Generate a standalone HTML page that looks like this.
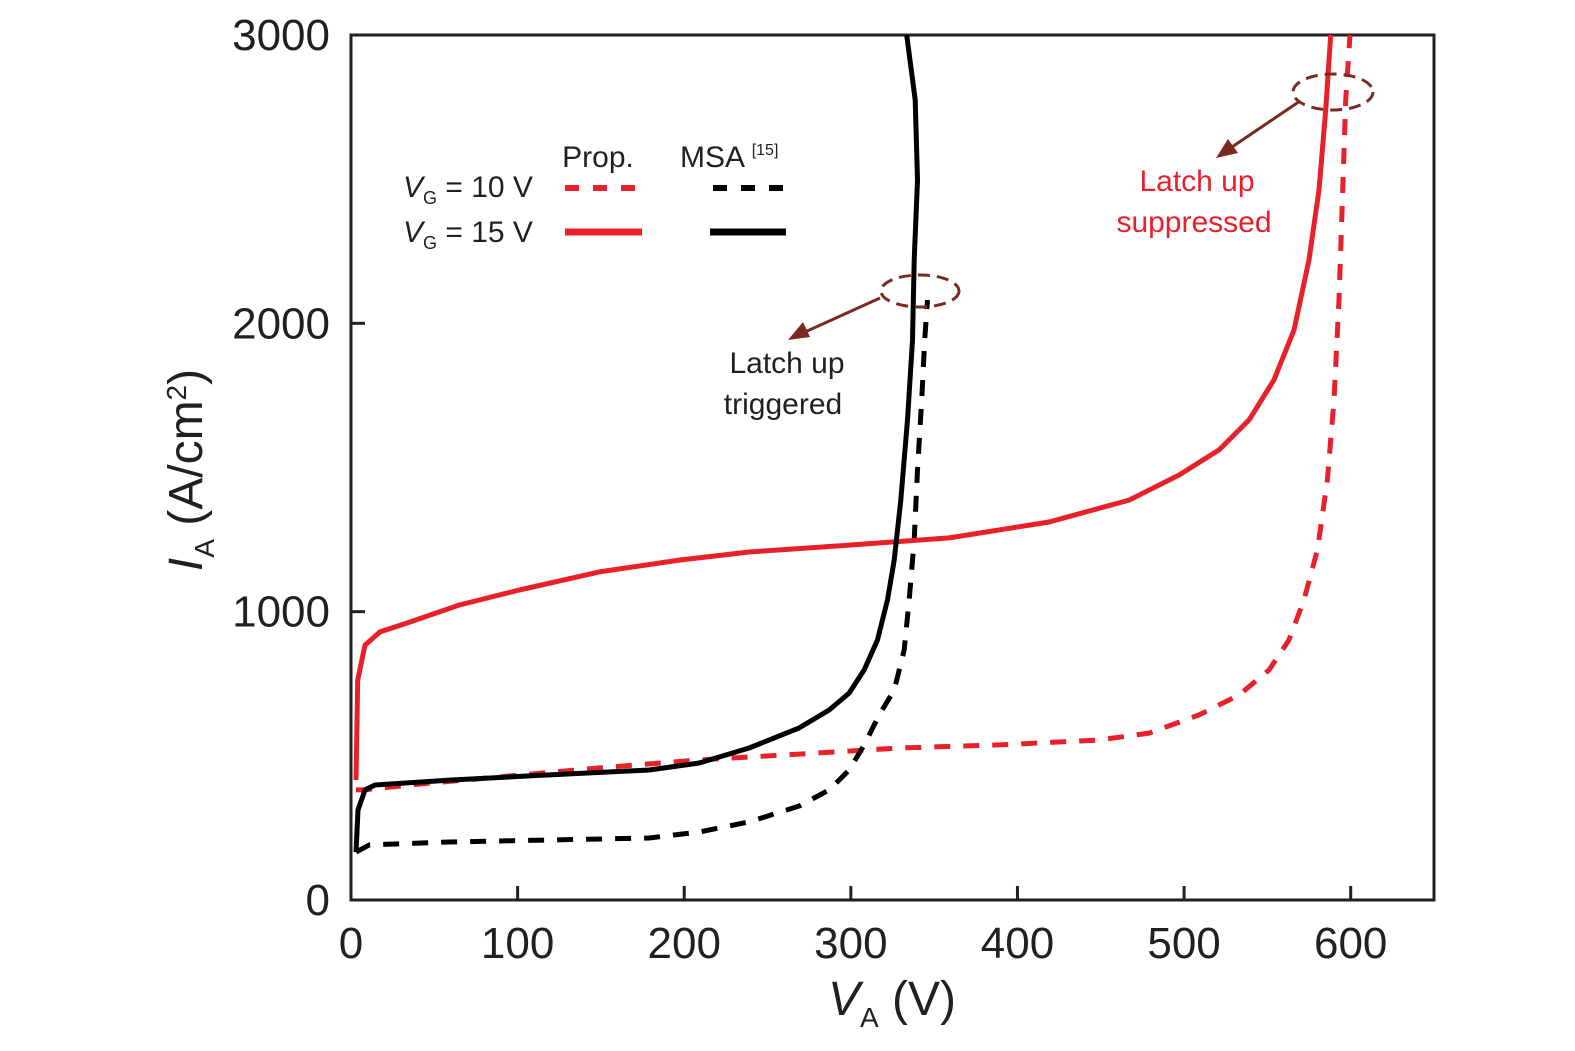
<!DOCTYPE html>
<html><head><meta charset="utf-8"><style>
body{margin:0;background:#fff}
svg{display:block;font-family:"Liberation Sans",sans-serif}
</style></head><body>
<svg width="1575" height="1051" viewBox="0 0 1575 1051">
<g id="axes"></g>
<g id="plot"></g>
<g font-size="30" fill="#231f20">
<text x="598" y="167" text-anchor="middle">Prop.</text>
<text x="680" y="167">MSA <tspan font-size="16" dy="-12">[15]</tspan></text>
<text x="403" y="197"><tspan font-style="italic">V</tspan><tspan font-size="18" dy="7">G</tspan><tspan dy="-7"> = 10 V</tspan></text>
<text x="403" y="242"><tspan font-style="italic">V</tspan><tspan font-size="18" dy="7">G</tspan><tspan dy="-7"> = 15 V</tspan></text>
<line x1="565" y1="188" x2="636" y2="188" stroke="#e8202a" stroke-width="6" stroke-dasharray="14,14"/>
<line x1="565" y1="232" x2="642" y2="232" stroke="#e8202a" stroke-width="7"/>
<line x1="713" y1="188" x2="784" y2="188" stroke="#000" stroke-width="6" stroke-dasharray="14,14"/>
<line x1="710" y1="232" x2="786" y2="232" stroke="#000" stroke-width="7"/>
</g>
<g>
<ellipse cx="920" cy="291" rx="39" ry="16" fill="none" stroke="#7a2a22" stroke-width="3" stroke-dasharray="12,7"/>
<line x1="880" y1="298" x2="805" y2="332" stroke="#7a2a22" stroke-width="3"/>
<polygon points="788,340 803,322 810,337" fill="#7a2a22"/>
<text x="787" y="373" font-size="30" text-anchor="middle" fill="#231f20">Latch up</text>
<text x="783" y="414" font-size="30" text-anchor="middle" fill="#231f20">triggered</text>
</g>
<g>
<ellipse cx="1333" cy="92" rx="40" ry="18" fill="none" stroke="#7a2a22" stroke-width="3" stroke-dasharray="12,7"/>
<line x1="1300" y1="101" x2="1232" y2="147" stroke="#7a2a22" stroke-width="3"/>
<polygon points="1216,158 1228,139 1238,153" fill="#7a2a22"/>
<text x="1197" y="191" font-size="30" text-anchor="middle" fill="#e8202a">Latch up</text>
<text x="1194" y="232" font-size="30" text-anchor="middle" fill="#e8202a">suppressed</text>
</g>
</svg>
<script>
const xTicks=[0,100,200,300,400,500,600];
const yTicks=[0,1000,2000,3000];
const prop15V=[3,4,8.4,17.4,35.4,65,101,149,197,239,299,359,419,467,497,521,539,554,566,575,581,585,588];
const prop15I=[416,763,884,930,964,1023,1075,1138,1179,1207,1231,1256,1311,1387,1474,1561,1665,1804,1977,2220,2463,2740,3000];
const prop10V=[3,8.4,17.4,41,89,149,209,269,329,389,449,479,509,533,551,563,572,580,586,590,593,595,597,599.6];
const prop10I=[382,382,388,402,427,458,486,506,527,538,555,579,642,711,798,902,1041,1214,1457,1734,2081,2428,2775,3000];
const msa15V=[3,4.2,8.4,14.4,59,119,179,209,239,269,287,299,308,316,322,326,330,334,337,338,340,338.6,333.5];
const msa15I=[166,312,382,399,416,434,451,475,527,597,659,718,798,902,1041,1179,1387,1665,1942,2220,2497,2775,3000];
const msa10V=[3,11,59,119,179,209,239,269,287,299,308,317,326,332,335,338,340,342.5,344.3,346];
const msa10I=[166,191,201,208,215,236,271,326,382,451,538,642,728,867,1041,1249,1492,1734,1942,2081];

const X0=351,X1=1434,Y0=900,Y1=35;
const sx=v=>X0+(v/650)*(X1-X0);
const sy=v=>Y0-(v/3000)*(Y0-Y1);
const NS="http://www.w3.org/2000/svg";
function mk(tag,attrs,parent){const e=document.createElementNS(NS,tag);for(const k in attrs)e.setAttribute(k,attrs[k]);parent.appendChild(e);return e;}
const axes=document.getElementById('axes'),plot=document.getElementById('plot');
const frame=mk('rect',{x:X0,y:Y1,width:X1-X0,height:Y0-Y1,fill:'none',stroke:'#231f20','stroke-width':3},axes);


xTicks.forEach(t=>{
 const l=mk('line',{x1:sx(t),x2:sx(t),y1:Y0,y2:Y0-14,stroke:'#231f20','stroke-width':3},axes);
 
 
 const tx=mk('text',{x:sx(t),y:958,'font-size':44,'text-anchor':'middle',fill:'#231f20'},axes);
 tx.textContent=t;
 
 
});
yTicks.forEach(t=>{
 const l=mk('line',{x1:X0,x2:X0+14,y1:sy(t),y2:sy(t),stroke:'#231f20','stroke-width':3},axes);
 
 
 const tx=mk('text',{x:330,y:sy(t)+15,'font-size':44,'text-anchor':'end',fill:'#231f20'},axes);
 tx.textContent=t;
 
 
});
const xt=mk('text',{x:892,y:1015,'font-size':48,'text-anchor':'middle',fill:'#231f20'},axes);
xt.innerHTML='<tspan font-style="italic">V</tspan><tspan font-size="28" dy="12">A</tspan><tspan dy="-12"> (V)</tspan>';


const yt=mk('text',{x:0,y:0,'font-size':48,'text-anchor':'middle',fill:'#231f20',transform:'translate(202,470) rotate(-90)'},axes);
yt.innerHTML='<tspan font-style="italic">I</tspan><tspan font-size="28" dy="12">A</tspan><tspan dy="-12"> (A/cm</tspan><tspan font-size="28" dy="-16">2</tspan><tspan dy="16">)</tspan>';


function series(V,I,color,dash,name){
 const d=V.map((v,i)=>(i?'L':'M')+sx(v).toFixed(1)+','+sy(I[i]).toFixed(1)).join(' ');
 const p=mk('path',{d:d,fill:'none',stroke:color,'stroke-width':5,'stroke-linejoin':'round'},plot);
 if(dash)p.setAttribute('stroke-dasharray','16,13');
 
 
}
series(prop10V,prop10I,'#e8202a',true,'series-prop-vg10');
series(msa10V,msa10I,'#000',true,'series-msa-vg10');
series(prop15V,prop15I,'#e8202a',false,'series-prop-vg15');
series(msa15V,msa15I,'#000',false,'series-msa-vg15');
</script>
</body></html>
